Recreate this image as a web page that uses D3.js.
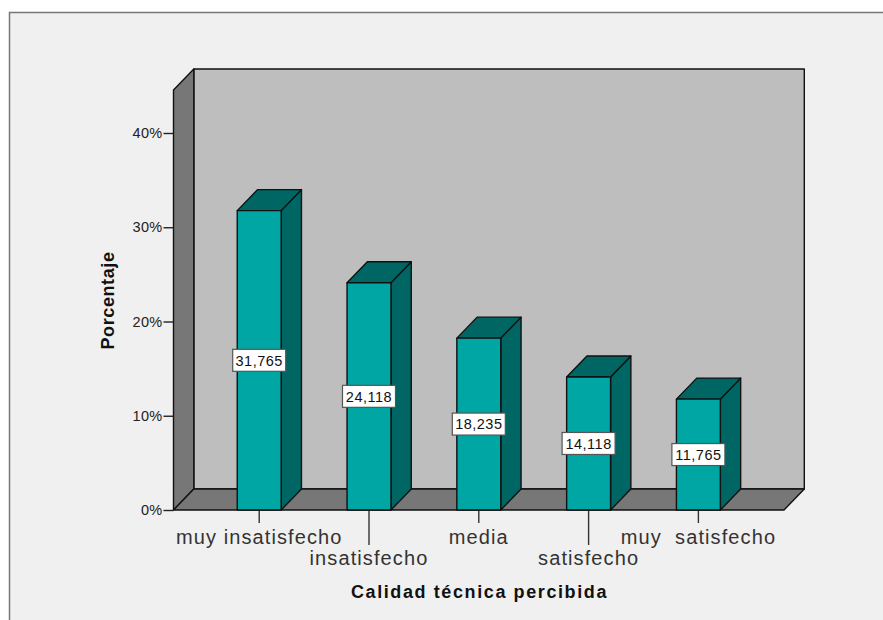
<!DOCTYPE html>
<html>
<head>
<meta charset="utf-8">
<script src="https://cdn.jsdelivr.net/npm/d3@7/dist/d3.min.js"></script>
<style>
html,body{margin:0;padding:0;background:#fff;}
svg{display:block;}
text{font-family:"Liberation Sans",Arial,sans-serif;}
</style>
</head>
<body>
<svg id="chart" width="883" height="620"></svg>
<script>
const categories = ["muy insatisfecho", "insatisfecho", "media", "satisfecho", "muy  satisfecho"];
const percentages = [31.765, 24.118, 18.235, 14.118, 11.765];
const yTicks = [0, 10, 20, 30, 40];
const yTitle = "Porcentaje";
const xTitle = "Calidad técnica percibida";

const W = 883, H = 620;
const depthX = 20.3, depthY = 21;
const plot = {left: 173.5, right: 784, top: 90, bottom: 510};
const ink = "#111";

const svg = d3.select("#chart");

// Chart frame: panel colour with a grey edge on the top and left
svg.append("rect").attr("x", 9).attr("y", 12).attr("width", W - 9).attr("height", H - 12).attr("fill", "#f0f0f0");
svg.append("path").attr("d", `M9.5,${H}V12.5H${W}`).attr("fill", "none").attr("stroke", "#777").attr("stroke-width", 1.5);

const y = d3.scaleLinear().domain([0, 40]).range([plot.bottom, 133]);
const x = d3.scaleBand().domain(categories).range([204.3, 753.3]).paddingInner(0.6).paddingOuter(0.3);

const poly = (pts, fill) => svg.append("polygon")
  .attr("points", pts.map(p => p.join(",")).join(" "))
  .attr("fill", fill).attr("stroke", ink).attr("stroke-width", 1.4).attr("stroke-linejoin", "round");

// Box walls in depth: back, left side, floor
poly([[plot.left + depthX, plot.top - depthY], [plot.right + depthX, plot.top - depthY],
      [plot.right + depthX, plot.bottom - depthY], [plot.left + depthX, plot.bottom - depthY]], "#bebebe");
poly([[plot.left, plot.top], [plot.left + depthX, plot.top - depthY],
      [plot.left + depthX, plot.bottom - depthY], [plot.left, plot.bottom]], "#777777");
poly([[plot.left, plot.bottom], [plot.left + depthX, plot.bottom - depthY],
      [plot.right + depthX, plot.bottom - depthY], [plot.right, plot.bottom]], "#777777");

// Value axis drawn on the front edge of the left wall
const yAxis = svg.append("g").attr("transform", `translate(${plot.left},0)`)
  .call(d3.axisLeft(y).tickValues(yTicks).tickSize(10).tickPadding(1).tickFormat(d => d + "%"));
yAxis.select(".domain").remove();
yAxis.selectAll("line").attr("stroke", "#222").attr("stroke-width", 1.4);
yAxis.selectAll("text").attr("font-size", 14.5).attr("letter-spacing", 0.3).attr("fill", "#222");

// Category ticks, long on every second category to clear the staggered labels
const longTick = i => i % 2 === 1;
svg.append("g").selectAll("line").data(categories).join("line")
  .attr("x1", d => x(d) + x.bandwidth() / 2).attr("x2", d => x(d) + x.bandwidth() / 2)
  .attr("y1", plot.bottom).attr("y2", (d, i) => plot.bottom + (longTick(i) ? 35 : 13))
  .attr("stroke", "#333").attr("stroke-width", 1.4);

svg.append("g").selectAll("text").data(categories).join("text")
  .attr("x", d => x(d) + x.bandwidth() / 2)
  .attr("y", (d, i) => longTick(i) ? 565 : 544)
  .attr("text-anchor", "middle").attr("font-size", 20).attr("letter-spacing", 1.1).attr("fill", "#333")
  .attr("xml:space", "preserve").style("white-space", "pre")
  .text(d => d);

// Extruded bars
const bars = svg.append("g").selectAll("g").data(percentages).join("g");
bars.each(function (v, i) {
  const x0 = x(categories[i]), x1 = x0 + x.bandwidth(), top = y(v);
  const g = d3.select(this);
  const face = (pts, fill) => g.append("polygon")
    .attr("points", pts.map(p => p.join(",")).join(" "))
    .attr("fill", fill).attr("stroke", ink).attr("stroke-width", 1.4).attr("stroke-linejoin", "round");
  face([[x1, top], [x1 + depthX, top - depthY], [x1 + depthX, plot.bottom - depthY], [x1, plot.bottom]], "#006664");
  face([[x0, top], [x0 + depthX, top - depthY], [x1 + depthX, top - depthY], [x1, top]], "#006664");
  face([[x0, top], [x1, top], [x1, plot.bottom], [x0, plot.bottom]], "#00a6a3");
});

// Value labels centred halfway up each bar
const fmt = v => v.toFixed(3).replace(".", ",");
const labels = svg.append("g").selectAll("g").data(percentages).join("g")
  .attr("transform", (v, i) => `translate(${x(categories[i]) + x.bandwidth() / 2},${y(v / 2)})`);
labels.append("rect").attr("x", -26.5).attr("y", -11).attr("width", 53).attr("height", 22)
  .attr("fill", "#fff").attr("stroke", "#555").attr("stroke-width", 1.2);
labels.append("text").attr("text-anchor", "middle").attr("dy", "0.36em")
  .attr("font-size", 14.5).attr("letter-spacing", 0.5).attr("fill", "#111").text(fmt);

// Axis titles
svg.append("text").attr("transform", "translate(114,300.5) rotate(-90)")
  .attr("text-anchor", "middle").attr("font-size", 18).attr("font-weight", "bold").attr("letter-spacing", 0.6)
  .attr("fill", "#111").text(yTitle);
svg.append("text").attr("x", 479.5).attr("y", 598)
  .attr("text-anchor", "middle").attr("font-size", 18).attr("font-weight", "bold").attr("letter-spacing", 1.6)
  .attr("fill", "#111").text(xTitle);
</script>
</body>
</html>
